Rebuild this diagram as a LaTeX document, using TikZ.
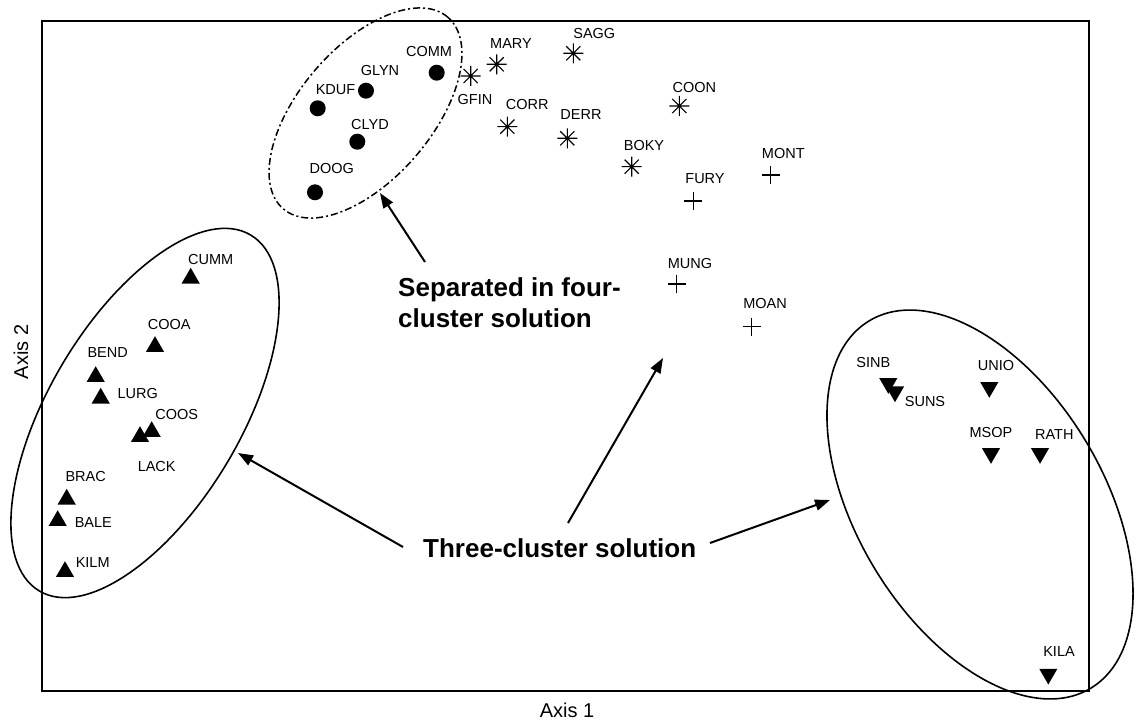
\documentclass[tikz,border=0pt]{standalone}
\usepackage{fontspec}
\setmainfont{Liberation Sans}
\usetikzlibrary{shapes.geometric,arrows.meta}
\begin{document}
\begin{tikzpicture}[x=1pt,y=-1pt,
  lab/.style={font=\fontsize{14.5}{14.5}\selectfont, inner sep=0pt},
  dotmark/.style={circle, fill=black, inner sep=0pt, minimum size=16pt},
  upmark/.style={regular polygon, regular polygon sides=3, fill=black, inner sep=0pt, minimum size=21pt},
  downmark/.style={upmark, shape border rotate=180},
  plusmark/.style={circle, inner sep=0pt, minimum size=20pt,
    path picture={\draw[line width=1.1pt, shift={(path picture bounding box.center)}]
      (0:9pt) -- (180:9pt) (90:9pt) -- (270:9pt);}},
  starmark/.style={circle, inner sep=0pt, minimum size=22pt,
    path picture={\draw[line width=1.1pt, shift={(path picture bounding box.center)}]
      (0:10pt) -- (180:10pt) (45:10pt) -- (225:10pt) (90:10pt) -- (270:10pt) (135:10pt) -- (315:10pt);}},
  clus/.style={ellipse, draw, line width=1.6pt, inner sep=0pt},
  bigtext/.style={font=\fontsize{26}{31}\selectfont\bfseries, inner sep=0pt, align=left},
  axislab/.style={font=\fontsize{20}{20}\selectfont, inner sep=0pt},
  arr/.style={line width=2pt, -{Triangle[length=15pt,width=11pt]}}
]
\useasboundingbox (0,0) rectangle (1137,722);
\fill[white] (0,0) rectangle (1137,722);

% frame
\node[draw, line width=1.8pt, minimum width=1047pt, minimum height=670pt, inner sep=0pt] (frame) at (565.5,356) {};
\node[axislab] (ax1) at (567,710) {Axis 1};
\node[axislab, rotate=90] (ax2) at (21,352) {Axis 2};

% cluster ellipses
\node[clus, minimum width=414pt, minimum height=192pt, rotate=59.3] (leftE) at (145,413) {};
\node[clus, minimum width=429pt, minimum height=246.6pt, rotate=-58.9] (rightE) at (980,504.5) {};
\node[clus, line width=1.5pt, dash pattern=on 7pt off 3pt on 2pt off 3pt, minimum width=252.6pt, minimum height=132.4pt, rotate=49.3] (dashE) at (365.5,113) {};

% dots
\node[dotmark] (COMM) at (436.7,72.7) {};
\node[dotmark] (GLYN) at (366,90.7) {};
\node[dotmark] (KDUF) at (317.7,108.3) {};
\node[dotmark] (CLYD) at (357.3,141.7) {};
\node[dotmark] (DOOG) at (315,192.3) {};
\node[lab] (lCOMM) at (429,51.7) {COMM};
\node[lab] (lGLYN) at (380,70.7) {GLYN};
\node[lab] (lKDUF) at (335.5,90) {KDUF};
\node[lab] (lCLYD) at (370,125) {CLYD};
\node[lab] (lDOOG) at (331.7,168.3) {DOOG};

% stars
\node[starmark] (GFIN) at (470.7,76) {};
\node[starmark] (MARY) at (496.7,64.3) {};
\node[starmark] (SAGG) at (573.3,53.3) {};
\node[starmark] (CORR) at (507.3,126.7) {};
\node[starmark] (DERR) at (567.3,138.3) {};
\node[starmark] (COON) at (679.3,106) {};
\node[starmark] (BOKY) at (631.7,166.7) {};
\node[lab] (lGFIN) at (475,100) {GFIN};
\node[lab] (lMARY) at (511,43.3) {MARY};
\node[lab] (lSAGG) at (594.3,33.3) {SAGG};
\node[lab] (lCORR) at (527.3,104.3) {CORR};
\node[lab] (lDERR) at (581,114.3) {DERR};
\node[lab] (lCOON) at (694.3,87.3) {COON};
\node[lab] (lBOKY) at (644,145.7) {BOKY};

% plus
\node[plusmark] (FURY) at (693.3,201) {};
\node[plusmark] (MONT) at (770.7,175) {};
\node[plusmark] (MUNG) at (676.7,284) {};
\node[plusmark] (MOAN) at (751.7,326.7) {};
\node[lab] (lFURY) at (705,179) {FURY};
\node[lab] (lMONT) at (783.3,153.3) {MONT};
\node[lab] (lMUNG) at (690,263.3) {MUNG};
\node[lab] (lMOAN) at (765,303.3) {MOAN};

% up triangles
\node[upmark] (CUMM) at (190.7,278.3) {};
\node[upmark] (COOA) at (155,346.7) {};
\node[upmark] (BEND) at (95.7,376.7) {};
\node[upmark] (LURG) at (100.7,398.3) {};
\node[upmark] (COOS) at (151.7,431.7) {};
\node[upmark] (LACK) at (140,436.7) {};
\node[upmark] (BRAC) at (66.7,499.3) {};
\node[upmark] (BALE) at (57.7,520.7) {};
\node[upmark] (KILM) at (65,571.7) {};
\node[lab] (lCUMM) at (210.7,259.3) {CUMM};
\node[lab] (lCOOA) at (169.3,325) {COOA};
\node[lab] (lBEND) at (107.7,352.7) {BEND};
\node[lab] (lLURG) at (137.7,393.3) {LURG};
\node[lab] (lCOOS) at (176.7,415) {COOS};
\node[lab] (lLACK) at (156.7,466.7) {LACK};
\node[lab] (lBRAC) at (85.7,476.7) {BRAC};
\node[lab] (lBALE) at (93.3,522.7) {BALE};
\node[lab] (lKILM) at (92.7,562.7) {KILM};

% down triangles
\node[downmark] (SINB) at (888.3,383.3) {};
\node[downmark] (SUNS) at (895,391.7) {};
\node[downmark] (UNIO) at (989.3,387.3) {};
\node[downmark] (MSOP) at (991,453.3) {};
\node[downmark] (RATH) at (1040,453.3) {};
\node[downmark] (KILA) at (1048.3,674) {};
\node[lab] (lSINB) at (873.3,362.7) {SINB};
\node[lab] (lSUNS) at (925,401.7) {SUNS};
\node[lab] (lUNIO) at (996,366) {UNIO};
\node[lab] (lMSOP) at (991,432.7) {MSOP};
\node[lab] (lRATH) at (1054.3,434.3) {RATH};
\node[lab] (lKILA) at (1059,651.7) {KILA};

% annotation texts
\node[bigtext, anchor=north west] (sep) at (398,277.5) {Separated in four-\\cluster solution};
\node[bigtext, anchor=base west] (three) at (423,557) {Three-cluster solution};

% arrows
\coordinate (s1) at (425,262);
\coordinate (e1) at (380,193);
\coordinate (s2) at (568,523);
\coordinate (e2) at (663,358);
\coordinate (s3) at (403,547);
\coordinate (e3) at (238,453);
\coordinate (s4) at (710,543);
\coordinate (e4) at (830,500);
\draw[arr] (s1) -- (e1);
\draw[arr] (s2) -- (e2);
\draw[arr] (s3) -- (e3);
\draw[arr] (s4) -- (e4);
\end{tikzpicture}
\end{document}
